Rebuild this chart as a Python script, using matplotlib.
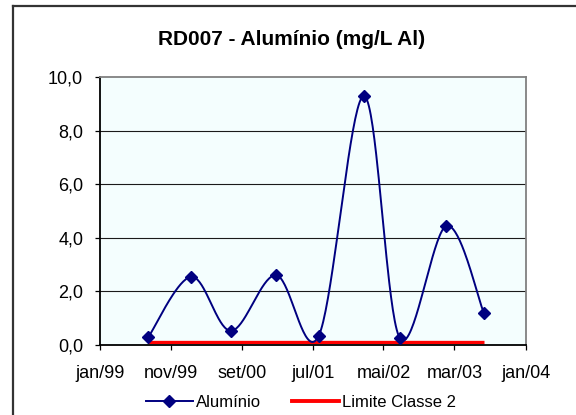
import numpy as np
import matplotlib
matplotlib.use("Agg")
import matplotlib.pyplot as plt
import matplotlib.dates as mdates
from matplotlib.lines import Line2D
from datetime import date

# Sampling dates and aluminium concentrations (mg/L Al)
sample_dates = [date(1999, 7, 27), date(2000, 1, 28), date(2000, 7, 16),
                date(2001, 1, 25), date(2001, 7, 27), date(2002, 2, 6),
                date(2002, 7, 10), date(2003, 1, 26), date(2003, 7, 5)]
aluminio = [0.29, 2.55, 0.53, 2.61, 0.34, 9.30, 0.26, 4.45, 1.21]

# Class 2 limit for aluminium
limite_classe2 = 0.1

# Axis ticks
tick_dates = [date(1999, 1, 1), date(1999, 11, 1), date(2000, 9, 1),
              date(2001, 7, 1), date(2002, 5, 1), date(2003, 3, 1),
              date(2004, 1, 1)]
tick_labels = ["jan/99", "nov/99", "set/00", "jul/01", "mai/02", "mar/03", "jan/04"]
y_ticks = [0, 2, 4, 6, 8, 10]
y_labels = ["0,0", "2,0", "4,0", "6,0", "8,0", "10,0"]

title = "RD007 - Alumínio (mg/L Al)"

plt.rcParams['font.family'] = ['Liberation Sans', 'DejaVu Sans']


def smooth_curve(x, y, n=40):
    """Piecewise cubic Bezier through the points (Catmull-Rom style)."""
    x = np.asarray(x, float)
    y = np.asarray(y, float)
    P = np.column_stack([x, y])
    out = []
    for i in range(len(P) - 1):
        p0 = P[i - 1] if i > 0 else P[i]
        p1 = P[i]
        p2 = P[i + 1]
        p3 = P[i + 2] if i + 2 < len(P) else P[i + 1]
        c1 = p1 + (p2 - p0) / 6.0
        c2 = p2 - (p3 - p1) / 6.0
        t = np.linspace(0, 1, n)[:, None]
        seg = ((1 - t) ** 3) * p1 + 3 * ((1 - t) ** 2) * t * c1 \
            + 3 * (1 - t) * t ** 2 * c2 + t ** 3 * p2
        out.append(seg if i == 0 else seg[1:])
    out = np.vstack(out)
    return out[:, 0], out[:, 1]


W, H = 576, 415
fig = plt.figure(figsize=(W / 100, H / 100), dpi=100)
fig.patch.set_facecolor("white")

# Outer chart border (left and top edges visible)
fig.add_artist(Line2D([13 / W, 13 / W], [0, 1 - 6 / H], transform=fig.transFigure,
                      color="#333333", lw=1.6))
fig.add_artist(Line2D([13 / W, 1], [1 - 6 / H, 1 - 6 / H], transform=fig.transFigure,
                      color="#333333", lw=1.6))

left, right, top, bottom = 100 / W, 525.7 / W, 77.3 / H, 345 / H
ax = fig.add_axes([left, 1 - bottom, right - left, bottom - top])
ax.set_facecolor("#F4FEFE")

xnum = mdates.date2num(sample_dates)
sx, sy = smooth_curve(xnum, aluminio)
ax.plot(sx, sy, color="#000080", lw=1.4, zorder=3)
ax.plot(xnum, aluminio, linestyle="none", marker="D", markersize=6.5,
        color="#000080", zorder=4)
ax.plot([xnum[0], xnum[-1]], [limite_classe2, limite_classe2],
        color="#FF0000", lw=2.4, zorder=2, solid_capstyle="butt")

tnum = mdates.date2num(tick_dates)
ax.set_xlim(tnum[0], tnum[-1])
ax.set_ylim(0, 10)
ax.set_xticks(tnum)
ax.set_xticklabels(tick_labels)
ax.set_yticks(y_ticks)
ax.set_yticklabels(y_labels)
ax.tick_params(axis="both", direction="out", length=3.6, width=0.9,
               color="black", labelsize=13)
ax.tick_params(axis="x", pad=10.5)
ax.tick_params(axis="y", pad=8.5)

for yv in y_ticks[1:-1]:
    ax.axhline(yv, color="#1a1a1a", lw=0.8, zorder=1)

ax.spines["left"].set_color("black")
ax.spines["bottom"].set_color("black")
ax.spines["top"].set_color("#808080")
ax.spines["right"].set_color("#808080")
for s in ax.spines.values():
    s.set_linewidth(1.3)

fig.text(292 / W, 1 - 45 / H, title, ha="center", va="baseline",
         fontsize=15, fontweight="bold")

handles = [Line2D([], [], color="#000080", lw=1.4, marker="D", markersize=6.5),
           Line2D([], [], color="#FF0000", lw=2.8)]
fig.legend(handles, ["Alumínio", "Limite Classe 2"], loc="center left",
           bbox_to_anchor=(146 / W, 1 - 402 / H), ncol=2, frameon=False,
           fontsize=12, handlelength=2.8, handletextpad=0.18, columnspacing=1.9,
           borderpad=0, borderaxespad=0)

fig.savefig("out.png", dpi=100)
